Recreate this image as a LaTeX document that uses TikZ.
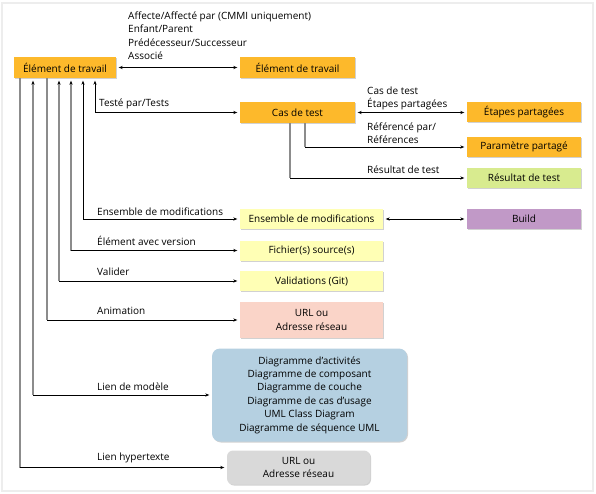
\documentclass[tikz,border=0pt]{standalone}
\usepackage{fontspec}
\setmainfont{Open Sans}
\usetikzlibrary{arrows.meta,shadows}
\definecolor{wiorange}{HTML}{FDB92B}
\definecolor{csyellow}{HTML}{FFFFB5}
\definecolor{urlpink}{HTML}{FAD4C8}
\definecolor{resgreen}{HTML}{D8EB8F}
\definecolor{buildpurple}{HTML}{C199C7}
\definecolor{modelblue}{HTML}{B5D0E1}
\definecolor{linkgray}{HTML}{D9D9D9}
\begin{document}
\begin{tikzpicture}[x=1pt,y=-1pt,
    font=\fontsize{10}{13.4}\selectfont,
    >={Stealth[length=4pt,width=3.2pt,color=black]},
    box/.style={rectangle,minimum height=21pt,inner sep=1pt,align=center,
      drop shadow={shadow xshift=1pt,shadow yshift=-1pt,fill=black!18,opacity=1}},
    lbl/.style={anchor=west,align=left,inner sep=0pt},
    gline/.style={draw=black!45,line width=1.6pt},
    bline/.style={draw=black,line width=0.8pt},
    arr/.style={->,shorten >=2.5pt},
    uarr/.style={<-,shorten <=2.5pt},
    darr/.style={<->,shorten >=2.5pt,shorten <=2.5pt}]
  \useasboundingbox (0,0) rectangle (596,494);
  \draw[draw=black!7,line width=1.5pt] (2,3) rectangle (593,491);

  \node[box,fill=wiorange,minimum width=102pt] (wi) at (65,67.5) {Élément de travail};
  \node[box,fill=wiorange,minimum width=115pt] (wi2) at (297.5,67.5) {Élément de travail};
  \node[box,fill=wiorange,minimum width=115pt] (cas) at (297.5,112.5) {Cas de test};
  \node[box,fill=wiorange,minimum width=114pt,minimum height=20pt] (etapes) at (524,112.5) {Étapes partagées};
  \node[box,fill=wiorange,minimum width=114pt,minimum height=20pt] (para) at (524,147) {Paramètre partagé};
  \node[box,fill=resgreen,minimum width=114pt,minimum height=20pt] (res) at (524,178) {Résultat de test};
  \node[box,fill=csyellow,minimum width=143pt,minimum height=20pt] (ens) at (311.5,219) {Ensemble de modifications};
  \node[box,fill=buildpurple,minimum width=114pt,minimum height=20pt] (build) at (524,219) {Build};
  \node[box,fill=csyellow,minimum width=143pt,minimum height=20pt] (fich) at (311.5,250.5) {Fichier(s) source(s)};
  \node[box,fill=csyellow,minimum width=143pt,minimum height=20pt] (valid) at (311.5,281) {Validations (Git)};
  \node[box,fill=urlpink,minimum width=143pt,minimum height=36pt] (url1) at (311.5,320) {URL ou\\Adresse réseau};
  \node[box,fill=modelblue,rounded corners=8pt,minimum width=195pt,minimum height=93pt] (model) at (309.5,395)
    {Diagramme d'activités\\Diagramme de composant\\Diagramme de couche\\Diagramme de cas d'usage\\UML Class Diagram\\Diagramme de séquence UML};
  \node[box,fill=linkgray,rounded corners=6pt,minimum width=143pt,minimum height=34pt] (url2) at (298.5,467.5) {URL ou\\Adresse réseau};

  \node[lbl,anchor=north west] (lrel) at (128,11.5) {Affecte/Affecté par (CMMI uniquement)\\Enfant/Parent\\Prédécesseur/Successeur\\Associé};
  \node[lbl] (ltest) at (99,104) {Testé par/Tests};
  \node[lbl] (letapes) at (367,98.5) {Cas de test\\Étapes partagées};
  \node[lbl] (lref) at (367,133.5) {Référencé par/\\Références};
  \node[lbl] (lres) at (367,170) {Résultat de test};
  \node[lbl] (lens) at (97,212) {Ensemble de modifications};
  \node[lbl] (lver) at (97,241) {Élément avec version};
  \node[lbl] (lvalid) at (97,272) {Valider};
  \node[lbl] (lani) at (97,311) {Animation};
  \node[lbl] (lmodel) at (97,387) {Lien de modèle};
  \node[lbl] (lhyper) at (97,458) {Lien hypertexte};

  \coordinate (xtest) at (95,0);
  \coordinate (xens) at (83,0);
  \coordinate (xver) at (71,0);
  \coordinate (xvalid) at (59,0);
  \coordinate (xani) at (47,0);
  \coordinate (xmodel) at (33,0);
  \coordinate (xhyper) at (20,0);
  \coordinate (xres) at (290,0);
  \coordinate (xpara) at (305,0);

  \draw[bline,darr] (wi) -- (wi2);
  \draw[bline,darr] (cas) -- (etapes);
  \draw[bline,darr] (ens) -- (build);
  \draw[bline,darr] (wi.south -| xtest) |- (cas);
  \draw[bline,darr] (wi.south -| xens) |- (ens);

  \draw[gline,uarr] (wi.south -| xver) -- (xver |- fich);
  \draw[bline,arr] (xver |- fich) -- (fich);
  \draw[gline,uarr] (wi.south -| xvalid) -- (xvalid |- valid);
  \draw[bline,arr] (xvalid |- valid) -- (valid);
  \draw[gline] (wi.south -| xani) -- (xani |- url1);
  \draw[bline,arr] (xani |- url1) -- (url1);
  \draw[gline,uarr] (wi.south -| xmodel) -- (xmodel |- model);
  \draw[bline,arr] (xmodel |- model) -- (model);
  \draw[gline] (wi.south -| xhyper) -- (xhyper |- url2);
  \draw[bline,arr] (xhyper |- url2) -- (url2);

  \draw[gline] (cas.south -| xpara) -- (xpara |- para);
  \draw[bline,arr] (xpara |- para) -- (para);
  \draw[gline] (cas.south -| xres) -- (xres |- res);
  \draw[bline,arr] (xres |- res) -- (res);
\end{tikzpicture}
\end{document}
